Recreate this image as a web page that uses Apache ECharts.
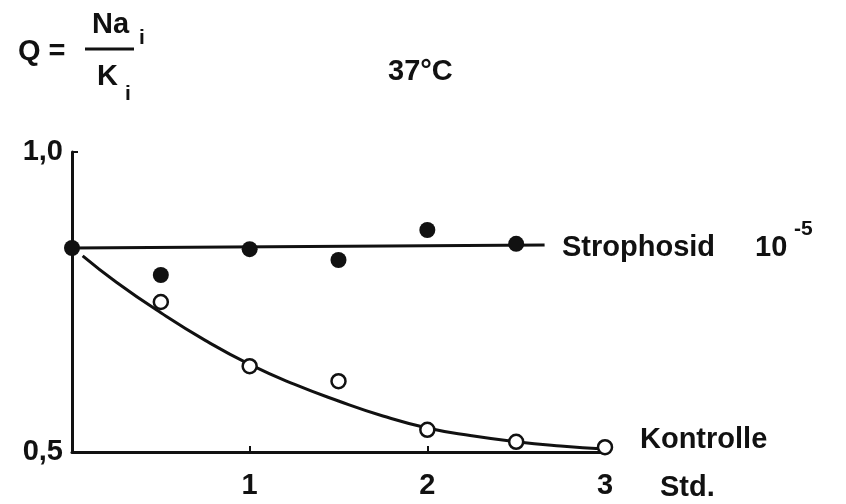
<!DOCTYPE html>
<html>
<head>
<meta charset="utf-8">
<script src="https://cdn.jsdelivr.net/npm/echarts@6/dist/echarts.min.js"></script>
<style>
  html, body { margin: 0; padding: 0; background: #fff; }
  #main { width: 846px; height: 504px; }
</style>
</head>
<body>
<div id="main"></div>
<script>
// Werte (Q = Na_i / K_i, 37 °C)
var strophosidPunkte = [[0, 0.84], [0.5, 0.795], [1, 0.838], [1.5, 0.82], [2, 0.87], [2.5, 0.847]];
var strophosidLinie = [[0, 0.84], [2.66, 0.845]];
var kontrollePunkte = [[0.5, 0.75], [1, 0.643], [1.5, 0.618], [2, 0.537], [2.5, 0.517], [3, 0.508]];
var kontrolleKurve = [
  [0.06, 0.827], [0.25, 0.783], [0.5, 0.732], [0.75, 0.686], [1, 0.646],
  [1.25, 0.613], [1.5, 0.585], [1.75, 0.56], [2, 0.54], [2.25, 0.527],
  [2.5, 0.517], [2.75, 0.51], [3, 0.505]
];
var xTicks = ['', '1', '2', '3'];
var yTicks = { 0.5: '0,5', 1: '1,0' };

var schrift = 'Liberation Sans';
var gross = 29;
var klein = 21;
var myChart = echarts.init(document.getElementById('main'));

function txt(x, y, s, size) {
  return {
    type: 'text', x: x, y: y,
    style: {
      text: s, fontSize: size || gross, fontWeight: 'bold', fontFamily: schrift,
      fill: '#111', verticalAlign: 'middle', align: 'left'
    }
  };
}

myChart.setOption({
  backgroundColor: '#fff',
  animation: false,
  grid: { left: 72, right: 241, top: 152, bottom: 52 },
  xAxis: {
    type: 'value',
    min: 0,
    max: 3,
    interval: 1,
    splitLine: { show: false },
    axisLine: { lineStyle: { color: '#111', width: 3 } },
    axisTick: { inside: true, length: 6, lineStyle: { color: '#111', width: 2 } },
    axisLabel: {
      color: '#111', fontSize: gross, fontWeight: 'bold', fontFamily: schrift, margin: 19,
      formatter: function (v) { return xTicks[Math.round(v)]; }
    }
  },
  yAxis: {
    type: 'value',
    min: 0.5,
    max: 1.0,
    interval: 0.5,
    splitLine: { show: false },
    axisLine: { show: true, lineStyle: { color: '#111', width: 3 } },
    axisTick: { show: true, inside: true, length: 6, lineStyle: { color: '#111', width: 2 } },
    axisLabel: {
      color: '#111', fontSize: gross, fontWeight: 'bold', fontFamily: schrift, margin: 9,
      formatter: function (v) { return yTicks[v] || ''; }
    }
  },
  series: [
    {
      type: 'line',
      data: strophosidLinie,
      showSymbol: false,
      lineStyle: { color: '#111', width: 3 },
      z: 2
    },
    {
      type: 'scatter',
      data: strophosidPunkte,
      symbolSize: 16,
      itemStyle: { color: '#111', opacity: 1 },
      z: 3
    },
    {
      type: 'line',
      data: kontrolleKurve,
      smooth: true,
      showSymbol: false,
      lineStyle: { color: '#111', width: 3 },
      z: 2
    },
    {
      type: 'scatter',
      data: kontrollePunkte,
      symbolSize: 14,
      itemStyle: { color: '#fff', borderColor: '#111', borderWidth: 2.5, opacity: 1 },
      z: 3
    }
  ],
  graphic: [
    txt(18, 52, 'Q ='),
    txt(92, 25, 'Na'),
    txt(139, 38, 'i', klein),
    { type: 'line', shape: { x1: 85, y1: 49, x2: 134, y2: 49 }, style: { stroke: '#111', lineWidth: 3 } },
    txt(97, 77, 'K'),
    txt(125, 94, 'i', klein),
    txt(388, 72, '37°C'),
    txt(562, 248, 'Strophosid'),
    txt(755, 248, '10'),
    txt(794, 229, '-5', klein),
    txt(640, 440, 'Kontrolle'),
    txt(660, 488, 'Std.')
  ]
});

window.addEventListener('resize', function () {
  myChart.resize();
});
</script>
</body>
</html>
